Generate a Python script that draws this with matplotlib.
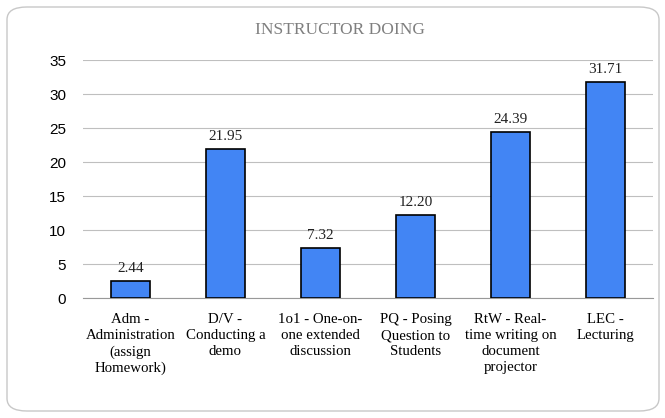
import matplotlib.pyplot as plt
from matplotlib.patches import FancyBboxPatch

# Chart data
categories = [
    "Adm -\nAdministration\n(assign\nHomework)",
    "D/V -\nConducting a\ndemo",
    "1o1 - One-on-\none extended\ndiscussion",
    "PQ - Posing\nQuestion to\nStudents",
    "RtW - Real-\ntime writing on\ndocument\nprojector",
    "LEC -\nLecturing",
]
values = [2.44, 21.95, 7.32, 12.20, 24.39, 31.71]
yticks = [0, 5, 10, 15, 20, 25, 30, 35]

serif = "Liberation Serif"
sans = "Liberation Sans"

fig = plt.figure(figsize=(6.65, 4.18), dpi=100)
ax = fig.add_axes([83 / 665, 1 - 298 / 418, (653 - 83) / 665, (298 - 60) / 418])

# rounded chart border
border = FancyBboxPatch(
    (7 / 665, 7 / 418), 652 / 665, 404 / 418,
    boxstyle="round,pad=0,rounding_size=0.03",
    transform=fig.transFigure, facecolor="white", edgecolor="#c8c8c8",
    lw=1.0, zorder=-1,
)
fig.patches.append(border)

x = range(len(values))
bars = ax.bar(x, values, width=0.41, color="#4285f4", edgecolor="black", lw=1.2, zorder=3)
for xi, v in zip(x, values):
    ax.text(xi, v + 0.9, f"{v:.2f}", ha="center", va="bottom",
            family=serif, fontsize=11, color="#222222")

ax.set_xlim(-0.5, len(values) - 0.5)
ax.set_ylim(0, 35)
ax.set_yticks(yticks)
ax.set_yticklabels([str(t) for t in yticks], family=sans, fontsize=11)
ax.set_xticks(list(x))
ax.set_xticklabels(categories, family=serif, fontsize=10.7, linespacing=1.3)
ax.tick_params(axis="both", length=0)
ax.tick_params(axis="x", pad=11)
ax.tick_params(axis="y", pad=12)
ax.grid(axis="y", color="#bfbfbf", lw=0.8, zorder=0)
for side in ["top", "right", "left"]:
    ax.spines[side].set_visible(False)
ax.spines["bottom"].set_color("#999999")

fig.text(340 / 665, 1 - 30 / 418, "INSTRUCTOR DOING", ha="center", va="center",
         family=serif, fontsize=12.5, color="#7f7f7f")

fig.savefig("out.png", dpi=100)
